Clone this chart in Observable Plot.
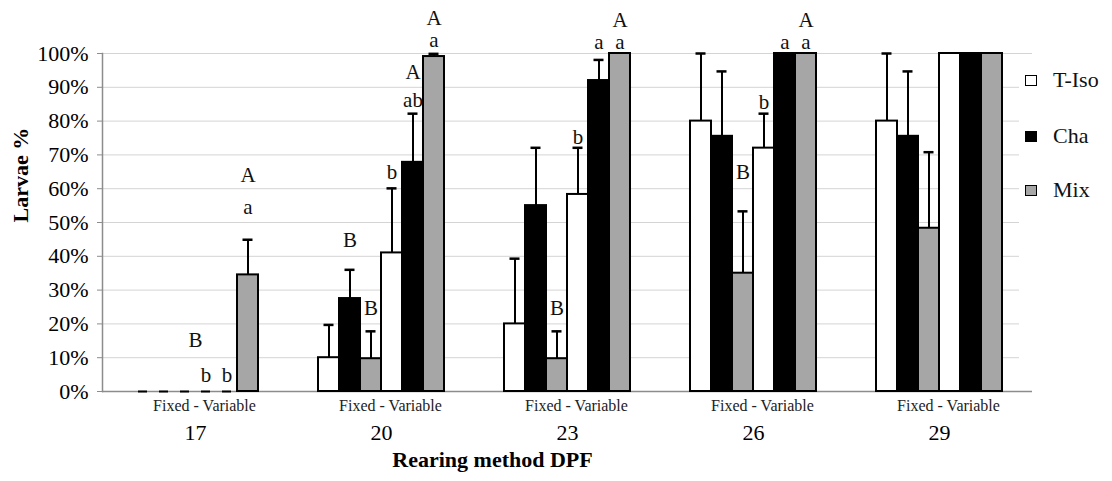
<!DOCTYPE html>
<html><head><meta charset="utf-8">
<script src="https://cdn.jsdelivr.net/npm/d3@7"></script>
<script src="https://cdn.jsdelivr.net/npm/@observablehq/plot@0.6"></script>
<style>
body{margin:0;background:#fff;font-family:"Liberation Serif","Times New Roman","DejaVu Serif",serif;}
#wrap{position:relative;width:1112px;height:481px;}
#wrap svg text{font-family:"Liberation Serif","Times New Roman","DejaVu Serif",serif;}
#legend{position:absolute;left:1019px;top:62px;width:93px;height:322px;background:#fff;}
.item{position:absolute;left:6px;display:flex;align-items:center;font-size:22px;height:28px;line-height:28px;color:#111;}
.sw{width:10px;height:9px;border:1.5px solid #000;margin-right:16px;}
</style></head><body><div id="wrap"></div>
<script>
// ---- data ----
const groups = ["17", "20", "23", "26", "29"];
const series = ["T-Iso", "Cha", "Mix"];
const methods = ["Fixed", "Variable"];
const colors = ["#ffffff", "#000000", "#a6a6a6"];
const yTicks = [0, 10, 20, 30, 40, 50, 60, 70, 80, 90, 100];

// means (%) per group, Fixed rearing
const tIsoFixed = [0, 10, 20, 80, 80];
const chaFixed  = [0, 27.5, 55, 75.5, 75.5];
const mixFixed  = [0, 9.7, 9.7, 35, 48.3];
// means (%) per group, Variable rearing
const tIsoVar = [0, 41, 58.3, 72, 100];
const chaVar  = [0, 67.8, 92, 100, 100];
const mixVar  = [34.5, 99.1, 100, 100, 100];
// upper error (%)
const tIsoFixedErr = [0, 9.7, 19.3, 20, 20];
const chaFixedErr  = [0, 8.5, 17.1, 19.2, 19.2];
const mixFixedErr  = [0, 8.1, 8.1, 18.3, 22.5];
const tIsoVarErr = [0, 19.1, 13.8, 10.2, 0];
const chaVarErr  = [0, 14.4, 6.1, 0, 0];
const mixVarErr  = [10.4, 0.8, 0, 0, 0];

// significance letters: [group, bar, y value (%), text]
const groupLetters = [["17", 15.1, "B"]];
const barLetters = [
  ["17", "T-Iso Variable", 4.7, "b"],
  ["17", "Cha Variable", 4.7, "b"],
  ["17", "Mix Variable", 63.9, "A"],
  ["17", "Mix Variable", 54.4, "a"],
  ["20", "Cha Fixed", 44.7, "B"],
  ["20", "Mix Fixed", 24.6, "B"],
  ["20", "T-Iso Variable", 64.8, "b"],
  ["20", "Cha Variable", 94.4, "A"],
  ["20", "Cha Variable", 86.1, "ab"],
  ["20", "Mix Variable", 110.5, "A"],
  ["20", "Mix Variable", 103.8, "a"],
  ["23", "Mix Fixed", 24.6, "B"],
  ["23", "T-Iso Variable", 75.1, "b"],
  ["23", "Cha Variable", 103.3, "a"],
  ["23", "Mix Variable", 103.3, "a"],
  ["23", "Mix Variable", 109.8, "A"],
  ["26", "Mix Fixed", 64.8, "B"],
  ["26", "T-Iso Variable", 85.5, "b"],
  ["26", "Cha Variable", 103.3, "a"],
  ["26", "Mix Variable", 103.3, "a"],
  ["26", "Mix Variable", 109.9, "A"]
];

// ---- build table ----
const vals = {Fixed: [tIsoFixed, chaFixed, mixFixed], Variable: [tIsoVar, chaVar, mixVar]};
const errs = {Fixed: [tIsoFixedErr, chaFixedErr, mixFixedErr], Variable: [tIsoVarErr, chaVarErr, mixVarErr]};
const keys = [];
methods.forEach(m => series.forEach(s => keys.push(s + " " + m)));
const rows = [];
groups.forEach((g, gi) => methods.forEach(m => series.forEach((s, si) => {
  rows.push({group: g, key: s + " " + m, series: s, value: vals[m][si][gi], err: errs[m][si][gi]});
})));
const nonZero = rows.filter(d => d.value > 0);
const zeros = rows.filter(d => d.value === 0);
const withErr = rows.filter(d => d.err > 0);
const bl = barLetters.map(([group, key, y, text]) => ({group, key, y, text}));
const gl = groupLetters.map(([group, y, text]) => ({group, y, text}));

const FONT = '"Liberation Serif", "Times New Roman", "DejaVu Serif", serif';
const chart = Plot.plot({
  width: 1112, height: 481,
  marginLeft: 102, marginRight: 80, marginTop: 53, marginBottom: 90,
  style: {fontFamily: FONT, fontSize: "21px", color: "#000", background: "transparent", overflow: "visible"},
  fx: {domain: groups, padding: 0, label: null},
  x: {domain: keys, paddingInner: 0, paddingOuter: 1.29, axis: null},
  y: {domain: [0, 100], label: null},
  color: {domain: series, range: colors},
  marks: [
    Plot.gridY({ticks: yTicks, stroke: "#d4d4d4", strokeOpacity: 1}),
    Plot.ruleY([0], {stroke: "#8c8c8c", strokeWidth: 1.5}),
    Plot.frame({anchor: "left", stroke: "#8c8c8c", strokeWidth: 1.5, facetAnchor: "left"}),
    Plot.axisY({ticks: yTicks, tickFormat: d => d + "%", tickSize: 5, tickPadding: 9, stroke: "#8c8c8c", fontSize: 22, label: null}),
    Plot.axisFx({anchor: "bottom", tickSize: 0, tickPadding: 33, fontSize: 22, label: null}),
    Plot.barY(nonZero, {fx: "group", x: "key", y: "value", fill: "series", stroke: "#000", strokeWidth: 2}),
    Plot.tickY(zeros, {fx: "group", x: "key", y: "value", stroke: "#000", strokeWidth: 2, insetLeft: 6, insetRight: 6}),
    Plot.ruleX(withErr, {fx: "group", x: "key", y1: "value", y2: d => d.value + d.err, stroke: "#000", strokeWidth: 2}),
    Plot.tickY(withErr, {fx: "group", x: "key", y: d => d.value + d.err, stroke: "#000", strokeWidth: 2.5, insetLeft: 5.5, insetRight: 5.5}),
    Plot.text(bl, {fx: "group", x: "key", y: "y", text: "text", fontSize: 21, fill: "#111"}),
    Plot.text(gl, {fx: "group", y: "y", text: "text", fontSize: 21, fill: "#111"}),
    Plot.text(groups, {fx: d => d, text: () => "Fixed - Variable", frameAnchor: "bottom", dy: 19, dx: 9, fontSize: 16, fill: "#222"}),
    Plot.text(["Larvae %"], {text: d => d, frameAnchor: "left", rotate: -90, dx: -82, fontSize: 22, fontWeight: "bold", facetAnchor: "left"}),
    Plot.text(["Rearing method DPF"], {text: d => d, frameAnchor: "bottom-left", textAnchor: "middle", dx: 390, dy: 75, fontSize: 22, fontWeight: "bold", facetAnchor: "left"})
  ]
});
const wrap = document.getElementById("wrap");
wrap.appendChild(chart);

// legend
const legend = document.createElement("div");
legend.id = "legend";
const centers = [80, 136, 190];
series.forEach((s, i) => {
  const it = document.createElement("div");
  it.className = "item";
  it.style.top = (centers[i] - 62 - 14) + "px";
  const sw = document.createElement("span");
  sw.className = "sw";
  sw.style.background = colors[i];
  const tx = document.createElement("span");
  tx.textContent = s;
  it.appendChild(sw); it.appendChild(tx);
  legend.appendChild(it);
});
wrap.appendChild(legend);
</script></body></html>
